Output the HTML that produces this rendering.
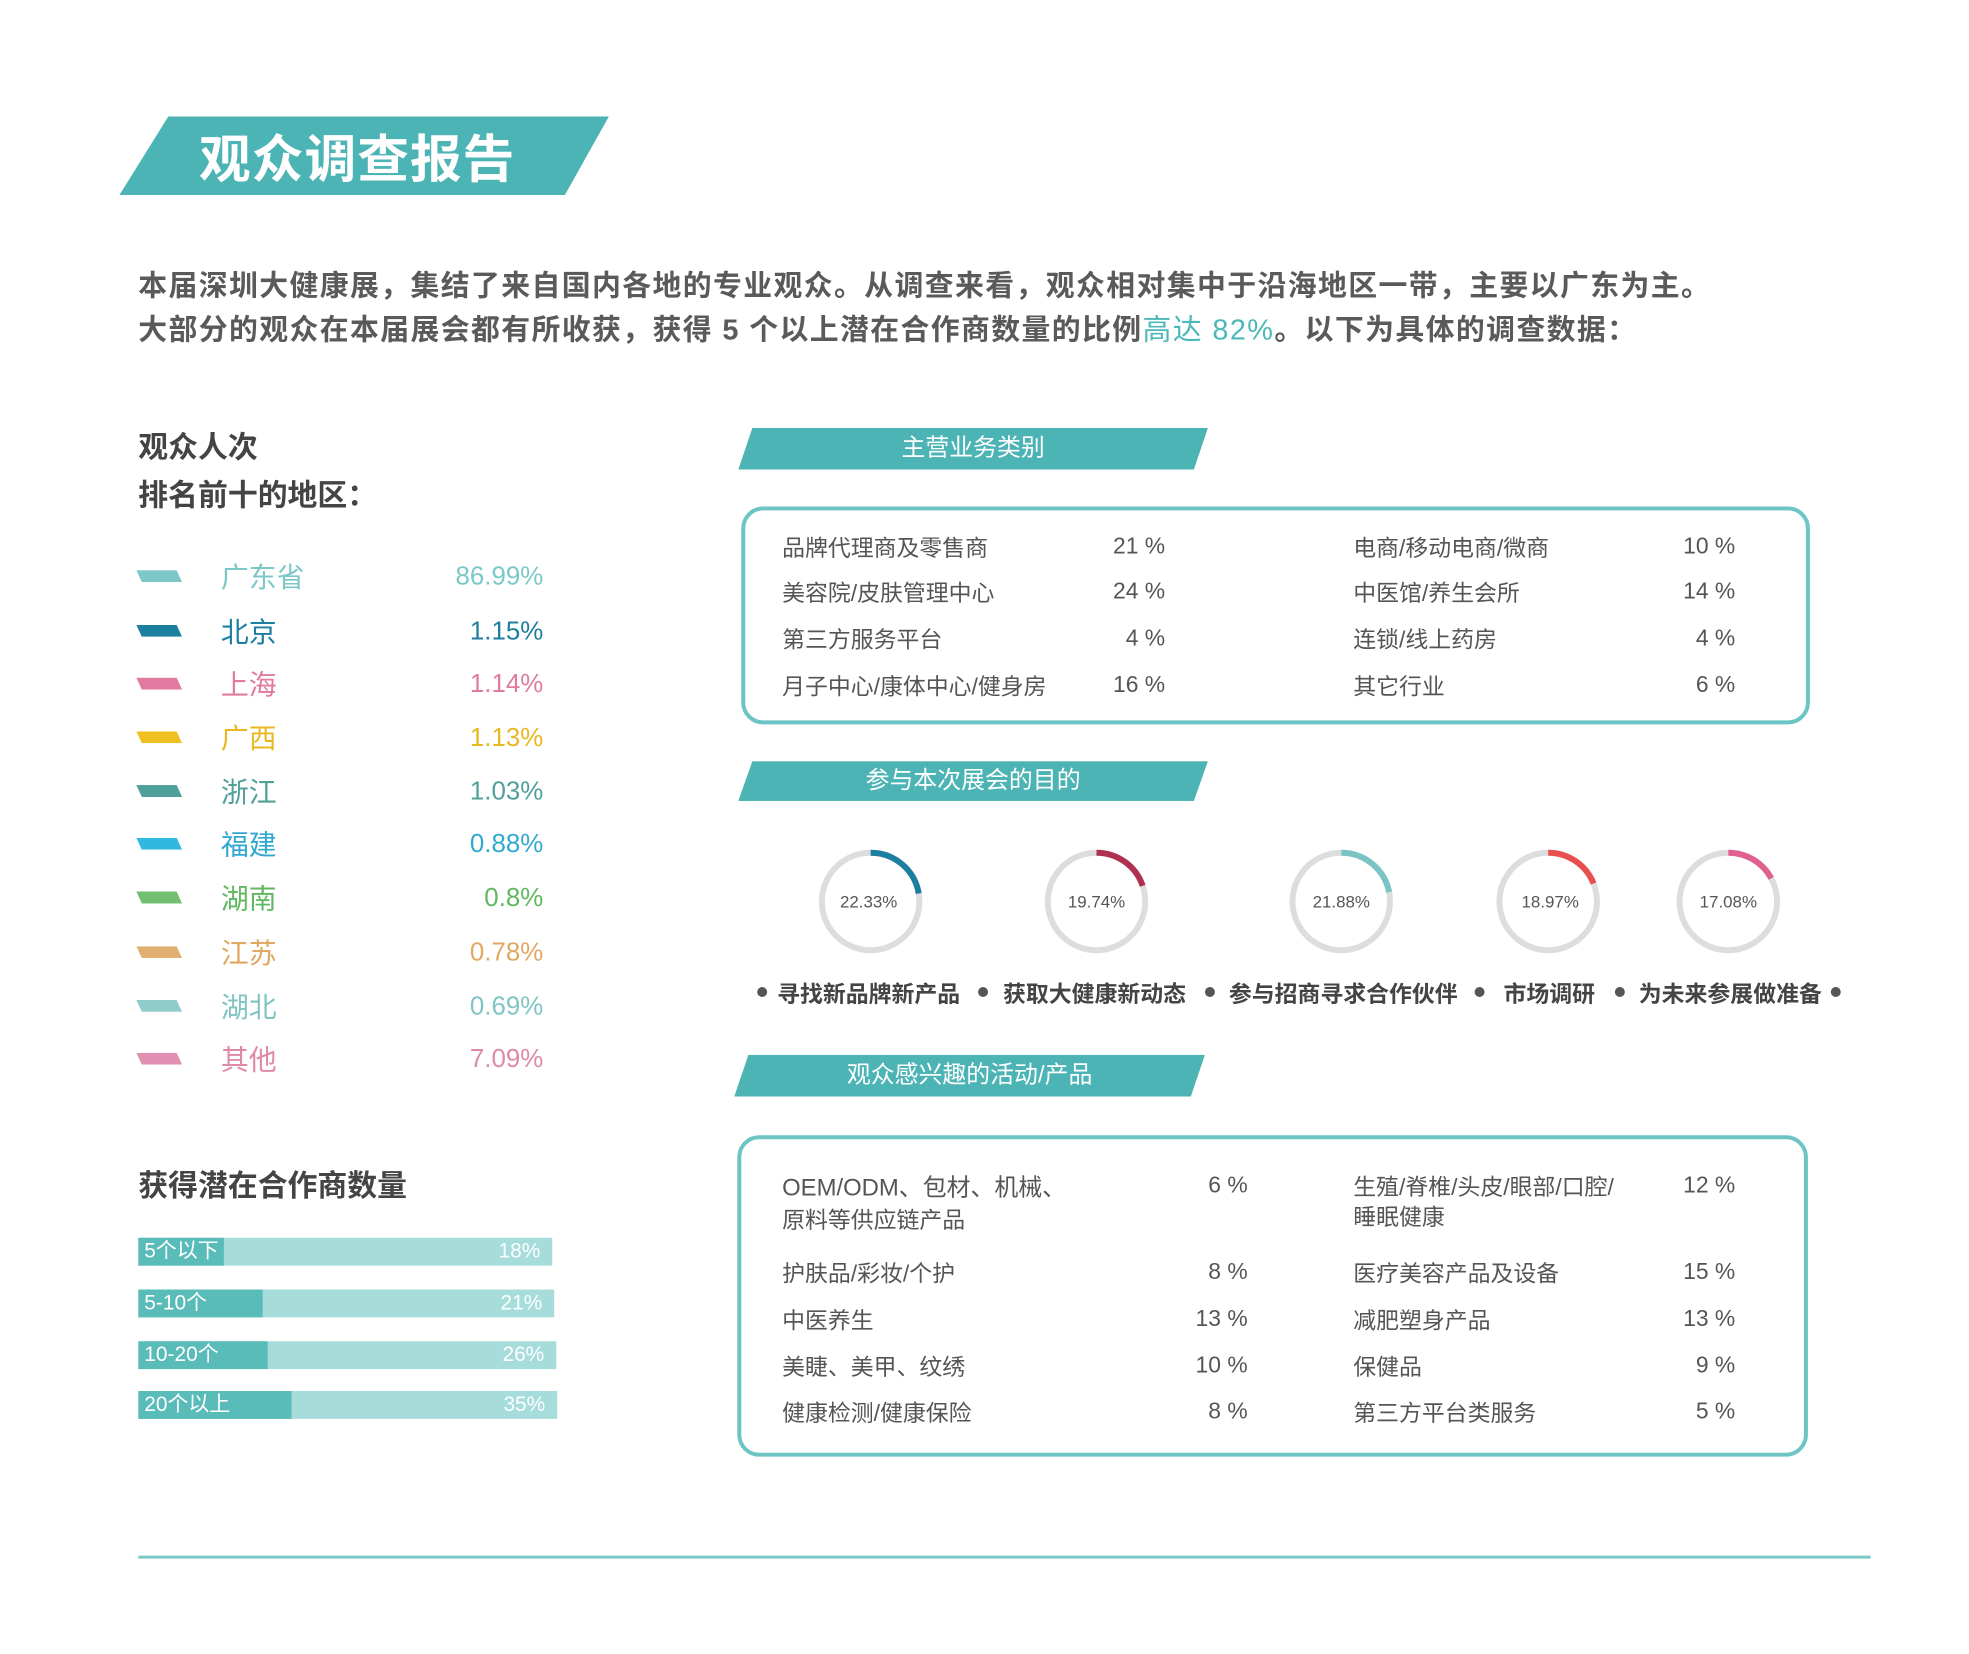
<!DOCTYPE html>
<html><head><meta charset="utf-8"><style>
*{margin:0;padding:0;box-sizing:border-box}
body{width:1969px;height:1654px;background:#fff;position:relative;overflow:hidden;font-family:"Liberation Sans","Noto Sans CJK SC",sans-serif;color:#555}
#w{position:absolute;left:0;top:0;width:1969px;height:1654px;transform:scale(0.995);transform-origin:0 0}
.a{position:absolute;white-space:nowrap}
.c{transform:translateY(-50%)}
.r{text-align:right}
.sw{position:absolute;width:46px;height:12px;clip-path:polygon(0 0,88% 0,100% 100%,12% 100%)}
.bar{position:absolute;left:139px;height:28px;background:#a6dcda}
.bar i{position:absolute;left:0;top:0;bottom:0;background:#5abcb8}
.bar span{position:absolute;left:6px;top:0;line-height:28px;color:#fff;font-size:21px}
.bar b{position:absolute;right:12px;top:0;line-height:28px;color:#fff;font-size:21px;font-weight:normal}
.ban{position:absolute;background:#4cb4b4;clip-path:polygon(3% 0,100% 0,97% 100%,0 100%);color:#fff;font-size:24px;text-align:center}
.box{position:absolute;border:4px solid #6cc4c4;border-radius:22px}
.t{font-size:23px;color:#555}
</style></head><body><div id="w">
<div class="a" style="left:120px;top:117px;width:492px;height:79px;background:#4cb4b4;clip-path:polygon(10% 0,100% 0,91% 100%,0 100%)"></div>
<div class="a" style="left:200px;top:156px;font-size:52px;font-weight:bold;color:#fff;transform:translateY(-50%);letter-spacing:1px">观众调查报告</div>

<div class="a c" style="left:139px;top:285px;font-size:29px;letter-spacing:1.4px;font-weight:bold;color:#5a5a5a">本届深圳大健康展，集结了来自国内各地的专业观众。从调查来看，观众相对集中于沿海地区一带，主要以广东为主。</div>
<div class="a c" style="left:139px;top:329px;font-size:29px;letter-spacing:1.4px;font-weight:bold;color:#5a5a5a">大部分的观众在本届展会都有所收获，获得 5 个以上潜在合作商数量的比例<span style="color:#4cb8b8;font-weight:normal">高达 82%</span>。以下为具体的调查数据：</div>

<div class="a c" style="left:139px;top:447px;font-size:30px;font-weight:bold;color:#444">观众人次</div>
<div class="a c" style="left:139px;top:495px;font-size:30px;font-weight:bold;color:#444">排名前十的地区：</div>

<div class="sw" style="left:137px;top:573px;background:#7cc8c8"></div><div class="a c" style="left:222px;top:579px;font-size:28px;color:#7cc8c8">广东省</div><div class="a c r" style="right:1423px;top:579px;font-size:26px;color:#7cc8c8">86.99%</div>
<div class="sw" style="left:137px;top:628px;background:#1b7fa0"></div><div class="a c" style="left:222px;top:634px;font-size:28px;color:#1b7fa0">北京</div><div class="a c r" style="right:1423px;top:634px;font-size:26px;color:#1b7fa0">1.15%</div>
<div class="sw" style="left:137px;top:681px;background:#e07aa0"></div><div class="a c" style="left:222px;top:687px;font-size:28px;color:#e07aa0">上海</div><div class="a c r" style="right:1423px;top:687px;font-size:26px;color:#e07aa0">1.14%</div>
<div class="sw" style="left:137px;top:735px;background:#f0c020"></div><div class="a c" style="left:222px;top:741px;font-size:28px;color:#e8b820">广西</div><div class="a c r" style="right:1423px;top:741px;font-size:26px;color:#e8b820">1.13%</div>
<div class="sw" style="left:137px;top:789px;background:#4fa09a"></div><div class="a c" style="left:222px;top:795px;font-size:28px;color:#4fa09a">浙江</div><div class="a c r" style="right:1423px;top:795px;font-size:26px;color:#4fa09a">1.03%</div>
<div class="sw" style="left:137px;top:842px;background:#30b8e0"></div><div class="a c" style="left:222px;top:848px;font-size:28px;color:#30a8d0">福建</div><div class="a c r" style="right:1423px;top:848px;font-size:26px;color:#30a8d0">0.88%</div>
<div class="sw" style="left:137px;top:896px;background:#70c070"></div><div class="a c" style="left:222px;top:902px;font-size:28px;color:#60b860">湖南</div><div class="a c r" style="right:1423px;top:902px;font-size:26px;color:#60b860">0.8%</div>
<div class="sw" style="left:137px;top:951px;background:#e0b070"></div><div class="a c" style="left:222px;top:957px;font-size:28px;color:#e0a860">江苏</div><div class="a c r" style="right:1423px;top:957px;font-size:26px;color:#e0a860">0.78%</div>
<div class="sw" style="left:137px;top:1005px;background:#90cccc"></div><div class="a c" style="left:222px;top:1011px;font-size:28px;color:#80c4c4">湖北</div><div class="a c r" style="right:1423px;top:1011px;font-size:26px;color:#80c4c4">0.69%</div>
<div class="sw" style="left:137px;top:1058px;background:#e090b0"></div><div class="a c" style="left:222px;top:1064px;font-size:28px;color:#e088a8">其他</div><div class="a c r" style="right:1423px;top:1064px;font-size:26px;color:#e088a8">7.09%</div>

<div class="a c" style="left:139px;top:1189px;font-size:30px;font-weight:bold;color:#444">获得潜在合作商数量</div>
<div class="bar" style="top:1244px;width:416px"><i style="width:86px"></i><span>5个以下</span><b>18%</b></div>
<div class="bar" style="top:1296px;width:418px"><i style="width:125px"></i><span>5-10个</span><b>21%</b></div>
<div class="bar" style="top:1348px;width:420px"><i style="width:130px"></i><span>10-20个</span><b>26%</b></div>
<div class="bar" style="top:1398px;width:421px"><i style="width:154px"></i><span>20个以上</span><b>35%</b></div>

<div class="ban" style="left:742px;top:430px;width:472px;height:42px;line-height:42px">主营业务类别</div>
<div class="box" style="left:745px;top:509px;width:1074px;height:219px"></div>
<div class="a c t" style="left:786px;top:549px">品牌代理商及零售商</div><div class="a c t r" style="right:798px;top:549px">21 %</div>
<div class="a c t" style="left:786px;top:594px">美容院/皮肤管理中心</div><div class="a c t r" style="right:798px;top:594px">24 %</div>
<div class="a c t" style="left:786px;top:641px">第三方服务平台</div><div class="a c t r" style="right:798px;top:641px">4 %</div>
<div class="a c t" style="left:786px;top:688px">月子中心/康体中心/健身房</div><div class="a c t r" style="right:798px;top:688px">16 %</div>
<div class="a c t" style="left:1360px;top:549px">电商/移动电商/微商</div><div class="a c t r" style="right:225px;top:549px">10 %</div>
<div class="a c t" style="left:1360px;top:594px">中医馆/养生会所</div><div class="a c t r" style="right:225px;top:594px">14 %</div>
<div class="a c t" style="left:1360px;top:641px">连锁/线上药房</div><div class="a c t r" style="right:225px;top:641px">4 %</div>
<div class="a c t" style="left:1360px;top:688px">其它行业</div><div class="a c t r" style="right:225px;top:688px">6 %</div>

<div class="ban" style="left:742px;top:765px;width:472px;height:40px;line-height:40px">参与本次展会的目的</div>
<svg class="a" style="left:0;top:0" width="1969" height="1654">
<g fill="none" stroke-width="6">
<circle cx="875" cy="906" r="49" stroke="#ddd"/><circle cx="875" cy="906" r="49" stroke="#1b7fa0" stroke-dasharray="68.75 400" transform="rotate(-90 875 906)"/>
<circle cx="1102" cy="906" r="49" stroke="#ddd"/><circle cx="1102" cy="906" r="49" stroke="#b03050" stroke-dasharray="60.8 400" transform="rotate(-90 1102 906)"/>
<circle cx="1348" cy="906" r="49" stroke="#ddd"/><circle cx="1348" cy="906" r="49" stroke="#7cc4c4" stroke-dasharray="67.4 400" transform="rotate(-90 1348 906)"/>
<circle cx="1556" cy="906" r="49" stroke="#ddd"/><circle cx="1556" cy="906" r="49" stroke="#e85050" stroke-dasharray="58.4 400" transform="rotate(-90 1556 906)"/>
<circle cx="1737" cy="906" r="49" stroke="#ddd"/><circle cx="1737" cy="906" r="49" stroke="#e06090" stroke-dasharray="52.6 400" transform="rotate(-90 1737 906)"/>
</g>
<g font-family="Liberation Sans, sans-serif" font-size="17" fill="#555" text-anchor="middle">
<text x="873" y="912">22.33%</text><text x="1102" y="912">19.74%</text><text x="1348" y="912">21.88%</text><text x="1558" y="912">18.97%</text><text x="1737" y="912">17.08%</text>
</g>
<g fill="#555"><circle cx="766" cy="997" r="5"/><circle cx="988" cy="997" r="5"/><circle cx="1216" cy="997" r="5"/><circle cx="1487" cy="997" r="5"/><circle cx="1628" cy="997" r="5"/><circle cx="1845" cy="997" r="5"/></g>
<line x1="139" y1="1565" x2="1880" y2="1565" stroke="#7cc8c8" stroke-width="3"/>
</svg>
<div class="a c" style="left:781px;top:997px;font-size:23px;font-weight:bold;color:#444">寻找新品牌新产品</div>
<div class="a c" style="left:1008px;top:997px;font-size:23px;font-weight:bold;color:#444">获取大健康新动态</div>
<div class="a c" style="left:1235px;top:997px;font-size:23px;font-weight:bold;color:#444">参与招商寻求合作伙伴</div>
<div class="a c" style="left:1511px;top:997px;font-size:23px;font-weight:bold;color:#444">市场调研</div>
<div class="a c" style="left:1647px;top:997px;font-size:23px;font-weight:bold;color:#444">为未来参展做准备</div>

<div class="ban" style="left:738px;top:1060px;width:473px;height:42px;line-height:42px">观众感兴趣的活动/产品</div>
<div class="box" style="left:741px;top:1141px;width:1076px;height:323px"></div>
<div class="a c t" style="left:786px;top:1191px;font-size:24px">OEM/ODM、包材、机械、</div><div class="a c t" style="left:786px;top:1224px">原料等供应链产品</div><div class="a c t r" style="right:715px;top:1191px">6 %</div>
<div class="a c t" style="left:786px;top:1278px">护肤品/彩妆/个护</div><div class="a c t r" style="right:715px;top:1278px">8 %</div>
<div class="a c t" style="left:786px;top:1325px">中医养生</div><div class="a c t r" style="right:715px;top:1325px">13 %</div>
<div class="a c t" style="left:786px;top:1372px">美睫、美甲、纹绣</div><div class="a c t r" style="right:715px;top:1372px">10 %</div>
<div class="a c t" style="left:786px;top:1418px">健康检测/健康保险</div><div class="a c t r" style="right:715px;top:1418px">8 %</div>
<div class="a c t" style="left:1360px;top:1191px">生殖/脊椎/头皮/眼部/口腔/</div><div class="a c t" style="left:1360px;top:1221px">睡眠健康</div><div class="a c t r" style="right:225px;top:1191px">12 %</div>
<div class="a c t" style="left:1360px;top:1278px">医疗美容产品及设备</div><div class="a c t r" style="right:225px;top:1278px">15 %</div>
<div class="a c t" style="left:1360px;top:1325px">减肥塑身产品</div><div class="a c t r" style="right:225px;top:1325px">13 %</div>
<div class="a c t" style="left:1360px;top:1372px">保健品</div><div class="a c t r" style="right:225px;top:1372px">9 %</div>
<div class="a c t" style="left:1360px;top:1418px">第三方平台类服务</div><div class="a c t r" style="right:225px;top:1418px">5 %</div>
</div></body></html>
